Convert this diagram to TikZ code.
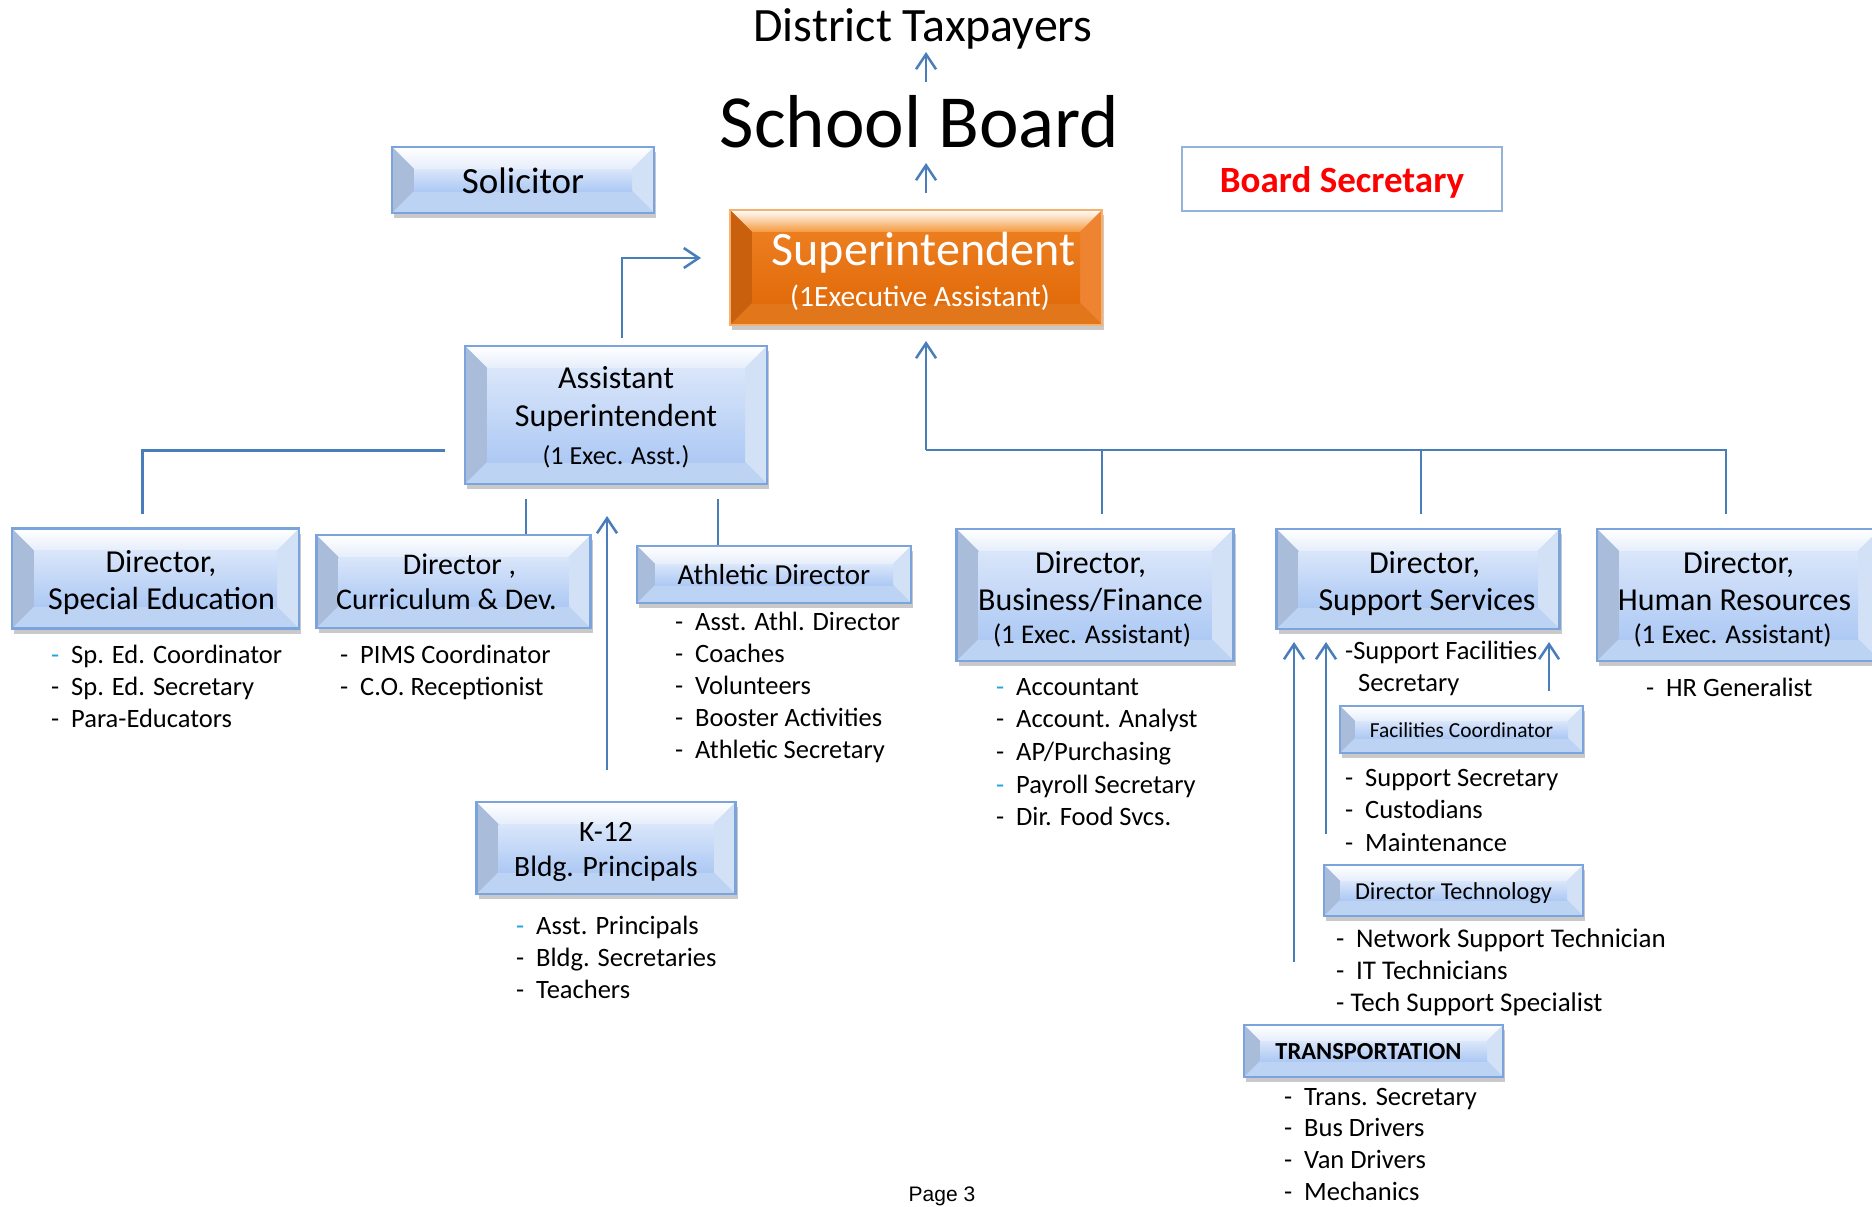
\documentclass[tikz,border=0pt]{standalone}
\usepackage{fontspec}
\setmainfont{Carlito}
\newfontfamily\arialfont{Liberation Sans}
\usetikzlibrary{arrows.meta,shadows}

\definecolor{lnblue}{HTML}{4A7EBB}
\definecolor{bxborder}{HTML}{7BA3DC}
\definecolor{bxtop}{HTML}{E6EEFB}
\definecolor{bxleft}{HTML}{A9BCDA}
\definecolor{bxright}{HTML}{D3E1F6}
\definecolor{bxbottom}{HTML}{BDD3F3}
\definecolor{bxinA}{HTML}{DAE6FA}
\definecolor{bxinB}{HTML}{ADC9F4}
\definecolor{orborder}{HTML}{F8B16C}
\definecolor{ortop}{HTML}{F5993C}
\definecolor{orleft}{HTML}{C9600E}
\definecolor{orright}{HTML}{EE8431}
\definecolor{orbottom}{HTML}{E2761A}
\definecolor{orinA}{HTML}{EC7E20}
\definecolor{orinB}{HTML}{E26B0A}
\definecolor{bsborder}{HTML}{95B3D7}
\definecolor{cydash}{HTML}{1FA5E0}

\def\bvd{22pt}
\newcommand{\dsh}{\makebox[20pt][l]{-}}
\newcommand{\cdsh}{\makebox[20pt][l]{\textcolor{cydash}{-}}}
\newcommand{\tsr}[1]{\rule{0pt}{#1pt}}
\newcommand{\bsr}[1]{\rule[-#1pt]{0pt}{#1pt}}
\newcommand{\stafflist}[5]{%
  \foreach \txt [count=\k] in {#5} {
    \node[staff] (#1\k) at (#2, #3+\k*#4-#4) {\txt};
  }%
}

\tikzset{
  bev/.style n args={7}{
    draw=#1, line width=2.5pt, fill=#7,
    drop shadow={shadow xshift=2pt, shadow yshift=-5pt, opacity=0.28, fill=black!75},
    path picture={
      \coordinate (bvP1) at (path picture bounding box.north west);
      \coordinate (bvP2) at (path picture bounding box.north east);
      \coordinate (bvP3) at (path picture bounding box.south east);
      \coordinate (bvP4) at (path picture bounding box.south west);
      \coordinate (bvQ1) at ([shift={(\bvd,-\bvd)}]bvP1);
      \coordinate (bvQ2) at ([shift={(-\bvd,-\bvd)}]bvP2);
      \coordinate (bvQ3) at ([shift={(-\bvd,\bvd)}]bvP3);
      \coordinate (bvQ4) at ([shift={(\bvd,\bvd)}]bvP4);
      \shade[top color=white, bottom color=#2] (bvP1) -- (bvP2) -- (bvQ2) -- (bvQ1) -- cycle;
      \fill[#3] (bvP1) -- (bvQ1) -- (bvQ4) -- (bvP4) -- cycle;
      \fill[#4] (bvP2) -- (bvQ2) -- (bvQ3) -- (bvP3) -- cycle;
      \fill[#5] (bvP4) -- (bvQ4) -- (bvQ3) -- (bvP3) -- cycle;
      \shade[top color=#6, bottom color=#7] (bvQ4) rectangle (bvQ2);
    }},
  bevdepth/.code={\def\bvd{#1}},
  bluebox/.style={rectangle, inner sep=0pt, align=center,
    bev={bxborder}{bxtop}{bxleft}{bxright}{bxbottom}{bxinA}{bxinB}},
  orangebox/.style={rectangle, inner sep=0pt, align=center, text=white,
    bev={orborder}{ortop}{orleft}{orright}{orbottom}{orinA}{orinB}},
  conn/.style={draw=lnblue, line width=2.5pt},
  arr/.style={conn, -{Straight Barb[length=15pt,width=20pt]}},
  staff/.style={anchor=base west, inner sep=0pt, font=\fontsize{26.5}{32}\selectfont},
  plain/.style={anchor=base, inner sep=0pt},
}

\begin{document}
\begin{tikzpicture}[x=1pt,y=-1pt]
\useasboundingbox (0,0) rectangle (1872,1207);
\clip (0,0) rectangle (1872,1207);
\fill[white] (0,0) rectangle (1872,1207);

% titles
\node[plain, font=\fontsize{47.9}{50}\selectfont] (tax) at (923,42) {District Taxpayers};
\node[plain, font=\fontsize{75}{80}\selectfont] (board) at (919.5,147) {School Board};
\node[plain, font=\arialfont\fontsize{21}{24}\selectfont] (page) at (942,1201) {Page 3};

% boxes
\node[bluebox, minimum width=262pt, minimum height=66pt, font=\fontsize{37}{44}\selectfont] (sol) at (523,180) {\tsr{37}\bsr{10}Solicitor};
\node[draw=bsborder, line width=1.5pt, minimum width=320pt, minimum height=64pt, inner sep=0pt, text=red, font=\bfseries\fontsize{37}{44}\selectfont] (bsec) at (1342,179) {\tsr{36}\bsr{10}Board Secretary};
\node[orangebox, minimum width=372pt, minimum height=115pt, font=\fontsize{48}{41}\selectfont] (sup) at (916,267.5) {\tsr{46}\hspace*{15pt}Superintendent\\\hspace*{8pt}{\fontsize{29.5}{41}\selectfont (1Executive Assistant)}\bsr{10}};
\node[bluebox, minimum width=302pt, minimum height=138pt, font=\fontsize{32}{38}\selectfont] (asup) at (616,415) {\tsr{30}Assistant\\Superintendent\\{\fontsize{26}{38}\selectfont (1 Exec. Asst.)}\bsr{8}};
\node[bluebox, minimum width=287pt, minimum height=100pt, font=\fontsize{32}{37}\selectfont] (sped) at (155.5,578.5) {\tsr{34}\hspace*{11pt}Director,\\\hspace*{12pt}Special Education\bsr{10}};
\node[bluebox, minimum width=274pt, minimum height=93pt, font=\fontsize{30}{35}\selectfont] (curr) at (453.5,581.5) {\tsr{30.4}\hspace*{12pt}Director ,\\\hspace*{-14pt}Curriculum \& Dev.\bsr{9}};
\node[bluebox, bevdepth=18pt, minimum width=274pt, minimum height=57pt, font=\fontsize{29}{35}\selectfont] (ath) at (774,574.5) {\tsr{28}\bsr{9}Athletic Director};
\node[bluebox, minimum width=277pt, minimum height=132pt, font=\fontsize{32}{37}\selectfont] (bus) at (1095,595) {\tsr{35}\hspace*{-9pt}Director,\\\hspace*{-9pt}Business/Finance\\[-3.5pt]\hspace*{-6pt}{\fontsize{27}{37}\selectfont (1 Exec. Assistant)}\bsr{8}};
\node[bluebox, minimum width=283pt, minimum height=100pt, font=\fontsize{32}{37}\selectfont] (supp) at (1418,579) {\tsr{35}\hspace*{13pt}Director,\\\hspace*{18pt}Support Services\bsr{10}};
\node[bluebox, minimum width=283pt, minimum height=132pt, font=\fontsize{32}{37}\selectfont] (hr) at (1738.5,595) {\tsr{35}Director,\\\hspace*{-8pt}Human Resources\\[-3.5pt]\hspace*{-12pt}{\fontsize{27}{37}\selectfont (1 Exec. Assistant)}\bsr{8}};
\node[bluebox, minimum width=259pt, minimum height=92pt, font=\fontsize{29.5}{35}\selectfont] (k12) at (606,848) {\tsr{31}K-12\\Bldg. Principals\bsr{9}};
\node[bluebox, bevdepth=15pt, minimum width=243pt, minimum height=47pt, font=\fontsize{21.4}{25}\selectfont] (fac) at (1461.5,729.5) {\tsr{21}\bsr{6}Facilities Coordinator};
\node[bluebox, bevdepth=16pt, minimum width=259pt, minimum height=51pt, font=\fontsize{24.3}{28}\selectfont] (tech) at (1453.5,890.5) {\tsr{24.8}\bsr{7}Director Technology};
\node[bluebox, bevdepth=16pt, minimum width=259pt, minimum height=52pt, font=\bfseries\fontsize{24.5}{28}\selectfont] (trans) at (1373.5,1051) {\tsr{23.8}\bsr{7}\hspace*{-10pt}TRANSPORTATION};

% staff lists
\stafflist{spl}{51}{663}{32}{\cdsh Sp. Ed. Coordinator, \dsh Sp. Ed. Secretary, \dsh Para-Educators}
\stafflist{cul}{340}{663}{32}{\dsh PIMS Coordinator, \dsh C.O. Receptionist}
\stafflist{atl}{675}{630}{32}{\dsh Asst. Athl. Director, \dsh Coaches, \dsh Volunteers, \dsh Booster Activities, \dsh Athletic Secretary}
\stafflist{bul}{996}{695}{32.7}{\cdsh Accountant, \dsh Account. Analyst, \dsh AP/Purchasing, \cdsh Payroll Secretary, \dsh Dir. Food Svcs.}
\stafflist{hrl}{1646}{696}{32}{\dsh HR Generalist}
\stafflist{kl}{516}{934}{32}{\cdsh Asst. Principals, \dsh Bldg. Secretaries, \dsh Teachers}
\stafflist{fcl}{1345}{786}{32.5}{\dsh Support Secretary, \dsh Custodians, \dsh Maintenance}
\begin{scope}[staff/.append style={font=\fontsize{27}{32}\selectfont}]
\stafflist{tel}{1336}{947}{32}{\dsh Network Support Technician, \dsh IT Technicians, - Tech Support Specialist}
\end{scope}
\stafflist{trl}{1284}{1105}{31.7}{\dsh Trans. Secretary, \dsh Bus Drivers, \dsh Van Drivers, \dsh Mechanics}
\node[staff] (sf1) at (1345,659) {-Support Facilities};
\node[staff] (sf2) at (1358,691) {Secretary};

% connectors
\coordinate (boardUp) at (926,82);
\coordinate (taxDown) at (926,52);
\draw[arr] (boardUp) -- (taxDown);
\coordinate (supUp) at (926,193);
\coordinate (boardDown) at (926,163);
\draw[arr] (supUp) -- (boardDown);
\coordinate (asupTop) at (622,338);
\coordinate (supLeft) at (701,258);
\draw[arr] (asupTop) |- (supLeft);
\coordinate (hub) at (926,450);
\coordinate (supBot) at (926,341);
\draw[arr] (hub) -- (supBot);
\coordinate (busTop) at (1102,514);
\coordinate (suppTop) at (1421,514);
\coordinate (hrTop) at (1726,514);
\draw[conn] (busTop) |- (hub);
\draw[conn] (suppTop) -- (1421,450);
\draw[conn] (hrTop) |- (hub);
\coordinate (asupLeft) at (445,450.5);
\coordinate (spedTop) at (142.5,514);
\draw[conn] (asupLeft) -| (spedTop);
\coordinate (asupB1) at (526,499);
\draw[conn] (asupB1) -- (curr.north -| asupB1);
\coordinate (asupB2) at (718,499);
\draw[conn] (asupB2) -- (ath.north -| asupB2);
\coordinate (k12Up) at (607,770);
\coordinate (asupBot) at (607,516);
\draw[arr] (k12Up) -- (asupBot);
\coordinate (transUp) at (1294,962);
\coordinate (transTo) at (1294,642);
\draw[arr] (transUp) -- (transTo);
\coordinate (techUp) at (1326,834);
\coordinate (techTo) at (1326,642);
\draw[arr] (techUp) -- (techTo);
\coordinate (facUp) at (1549,691);
\coordinate (facTo) at (1549,642);
\draw[arr] (facUp) -- (facTo);
\end{tikzpicture}
\end{document}
